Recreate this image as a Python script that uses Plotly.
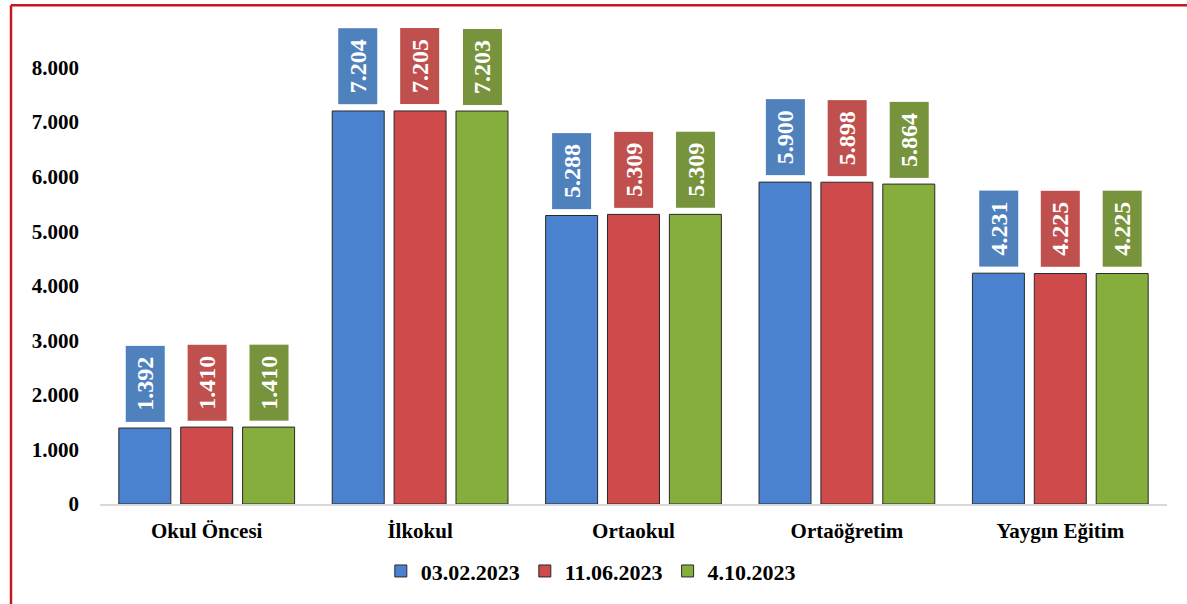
import plotly.graph_objects as go

categories = ["Okul Öncesi", "İlkokul", "Ortaokul", "Ortaöğretim", "Yaygın Eğitim"]
series_names = ["03.02.2023", "11.06.2023", "4.10.2023"]
values_0302 = [1392, 7204, 5288, 5900, 4231]
values_1106 = [1410, 7205, 5309, 5898, 4225]
values_0410 = [1410, 7203, 5309, 5864, 4225]
labels_0302 = ["1.392", "7.204", "5.288", "5.900", "4.231"]
labels_1106 = ["1.410", "7.205", "5.309", "5.898", "4.225"]
labels_0410 = ["1.410", "7.203", "5.309", "5.864", "4.225"]
y_ticks = [0, 1000, 2000, 3000, 4000, 5000, 6000, 7000, 8000]
y_ticklabels = ["0", "1.000", "2.000", "3.000", "4.000", "5.000", "6.000", "7.000", "8.000"]

bar_colors = ["#4A82CF", "#CF4A4A", "#86AE3C"]
box_colors = ["#4F81BD", "#C0504D", "#77933C"]
all_values = [values_0302, values_1106, values_0410]
all_labels = [labels_0302, labels_1106, labels_0410]

SERIF = "Liberation Serif"
bargap = 0.13
xs = list(range(len(categories)))

W, H = 1187, 604
L, R, T, B = 100, 20, 13, 92
PW, PH = W - L - R, H - T - B

fig = go.Figure()
for name, vals, col in zip(series_names, all_values, bar_colors):
    fig.add_trace(go.Bar(
        x=xs, y=vals, name=name,
        marker=dict(color=col, line=dict(color="#2a2a2a", width=1)),
    ))

slot = (1 - bargap) / 3
annotations = []
for j, (vals, labs, bc) in enumerate(zip(all_values, all_labels, box_colors)):
    for i, (v, lab) in enumerate(zip(vals, labs)):
        annotations.append(dict(
            x=i + (j - 1) * slot, y=v, xref="x", yref="y",
            text=lab,
            showarrow=False, textangle=-90,
            xanchor="center", yanchor="bottom", yshift=6,
            width=75, height=38, borderpad=0,
            bgcolor=bc, font=dict(family=SERIF, size=24, color="white", weight="bold"),
        ))

red = "#C8161D"
bx = (11 - L) / PW
ty = 1 + (T - 5) / PH
fig.update_layout(
    width=W, height=H,
    margin=dict(l=L, r=R, t=T, b=B),
    paper_bgcolor="white", plot_bgcolor="white",
    barmode="group", bargap=bargap, bargroupgap=0.16,
    annotations=annotations,
    showlegend=True,
    legend=dict(orientation="h", x=0.46, xanchor="center", y=-0.094, yanchor="top",
                font=dict(family=SERIF, size=22, color="black", weight="bold"),
                itemwidth=30, traceorder="normal"),
    font=dict(family=SERIF, color="black"),
    shapes=[
        dict(type="line", xref="paper", yref="paper",
             x0=bx, x1=1 + 40 / PW, y0=ty, y1=ty,
             line=dict(color=red, width=2.5)),
        dict(type="line", xref="paper", yref="paper",
             x0=bx, x1=bx, y0=ty, y1=-(B + 20) / PH,
             line=dict(color=red, width=2.5)),
    ],
)
fig.update_xaxes(
    tickmode="array", tickvals=xs, ticktext=categories,
    range=[-0.5, len(categories) - 0.5],
    showline=True, linecolor="#d9d9d9", linewidth=2,
    showgrid=False, ticks="", ticklabelstandoff=7,
    tickfont=dict(family=SERIF, size=21, color="black", weight="bold"),
)
fig.update_yaxes(
    range=[0, 9000], tickmode="array", tickvals=y_ticks, ticktext=y_ticklabels,
    showgrid=False, zeroline=False, showline=False, ticks="",
    ticklabelstandoff=20,
    tickfont=dict(family=SERIF, size=21, color="black", weight="bold"),
)
fig.write_html(
    "out.html",
    config={"displayModeBar": False},
    post_script="document.body.style.margin='0';document.body.style.padding='0';",
)
